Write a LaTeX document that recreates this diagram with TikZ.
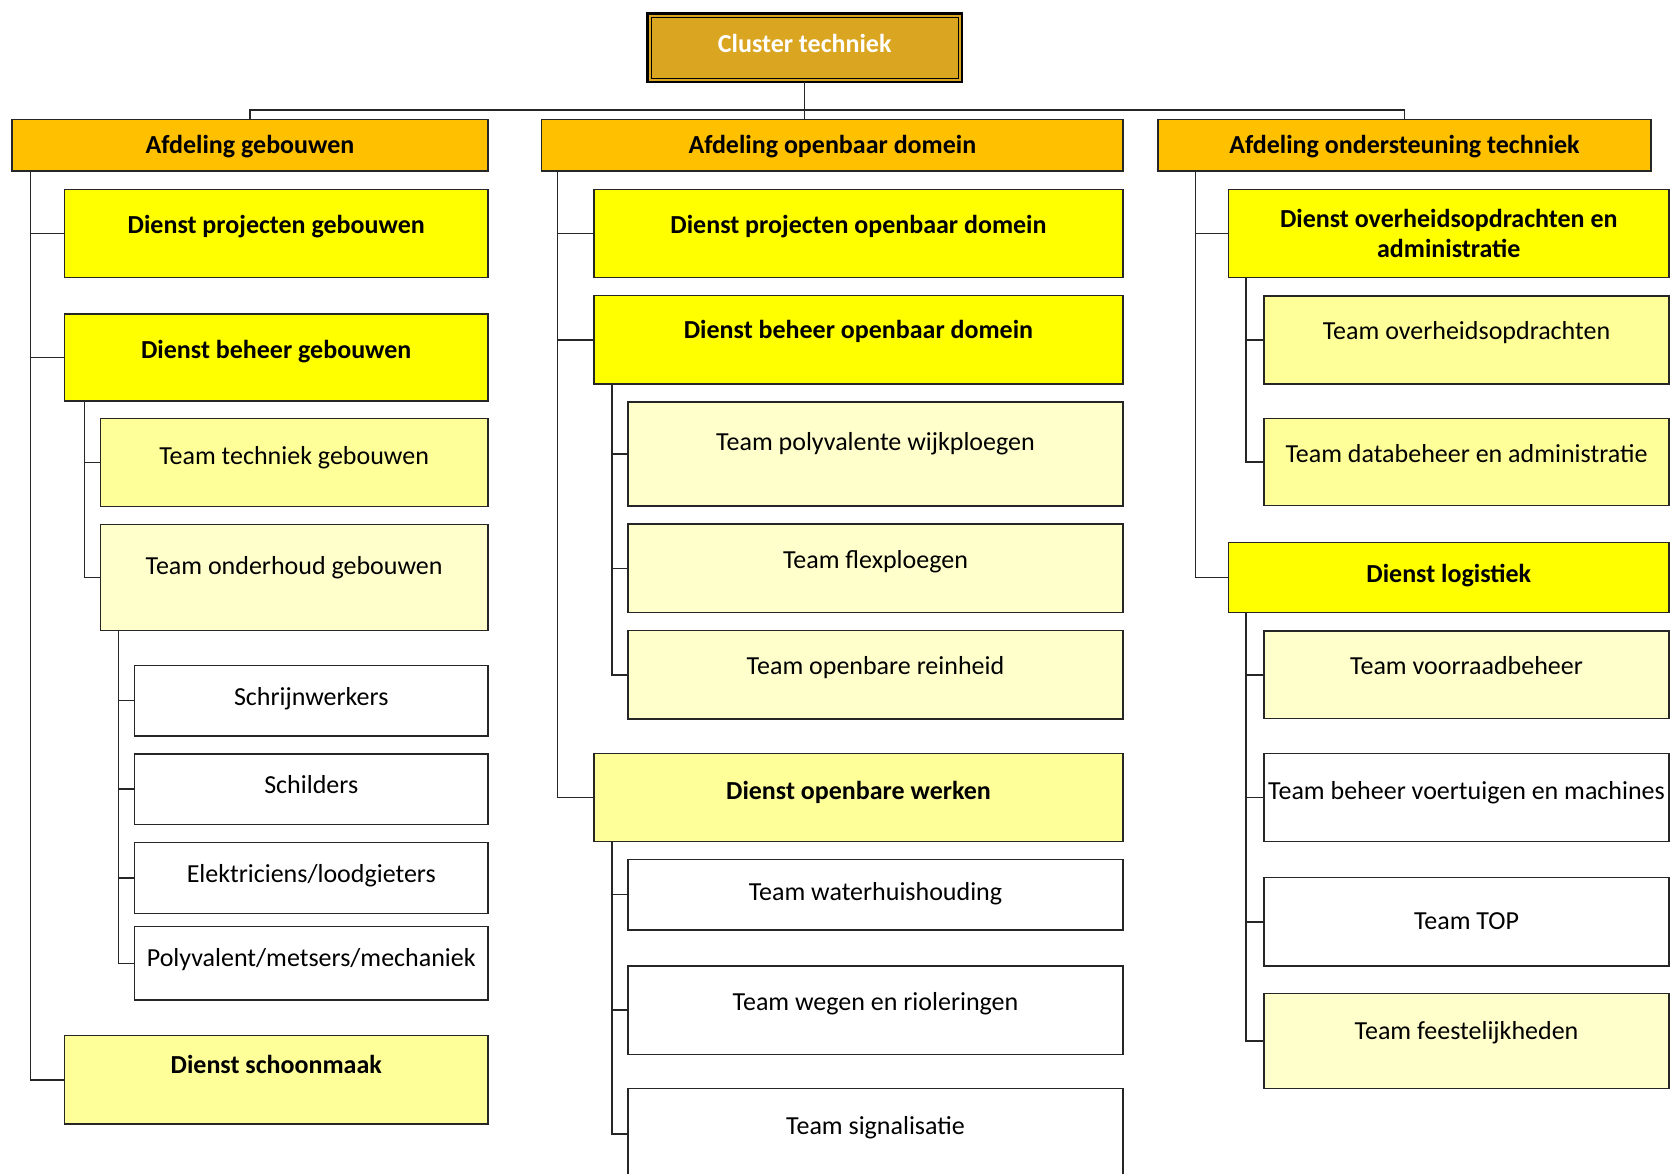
\documentclass[tikz,border=0pt]{standalone}
\usepackage{fontspec}
\setmainfont{Carlito}
\definecolor{clustercol}{HTML}{DAA520}
\definecolor{afdcol}{HTML}{FFC000}
\definecolor{dyel}{HTML}{FFFF00}
\definecolor{lyel}{HTML}{FFFF99}
\definecolor{pyel}{HTML}{FFFFCC}
\definecolor{linecol}{HTML}{262626}
\tikzset{
  basebox/.style={draw=linecol, line width=1.4pt, rectangle, anchor=north west,
    inner sep=0pt, outer sep=0pt, font=\fontsize{26}{30}\selectfont},
  box/.style={basebox, text height=20pt},
  bbox/.style={box, font=\fontsize{26}{30}\selectfont\bfseries},
  conn/.style={draw=linecol, line width=1.4pt},
}
\begin{document}
\begin{tikzpicture}[x=1pt,y=-1pt]
\path[use as bounding box, fill=white] (0,0) rectangle (1672,1173);
\clip (0,0) rectangle (1672,1173);

% top
\node[bbox, fill=clustercol, text=white, line width=2.7pt, draw=black, minimum width=314.6pt, minimum height=68.4pt, text depth=10pt] (ct) at (647.4,13.6) {Cluster techniek};
\draw[line width=0.9pt, black] ([shift={(4pt,-4pt)}]ct.north west) rectangle ([shift={(-4pt,4pt)}]ct.south east);

\node[bbox, fill=afdcol, minimum width=476pt, minimum height=51.7pt, text depth=4pt] (ag) at (12,119.3) {Afdeling gebouwen};
\node[bbox, fill=afdcol, minimum width=581.3pt, minimum height=51.7pt, text depth=4pt] (aod) at (541.7,119.3) {Afdeling openbaar domein};
\node[bbox, fill=afdcol, minimum width=493pt, minimum height=51.7pt, text depth=4pt] (aot) at (1158,119.3) {Afdeling ondersteuning techniek};

% left column
\node[bbox, fill=dyel, minimum width=423.5pt, minimum height=88pt, text depth=19pt] (dpg) at (64.5,189.3) {Dienst projecten gebouwen};
\node[bbox, fill=dyel, minimum width=423.5pt, minimum height=87pt, text depth=19pt] (dbg) at (64.5,314) {Dienst beheer gebouwen};
\node[box, fill=lyel, minimum width=387.8pt, minimum height=88.4pt, text depth=17pt] (ttg) at (100.2,418.3) {Team techniek gebouwen};
\node[box, fill=pyel, minimum width=387.8pt, minimum height=106.4pt, text depth=27pt] (tog) at (100.2,524.3) {Team onderhoud gebouwen};
\node[box, fill=white, minimum width=353.5pt, minimum height=70.4pt, text depth=11pt] (sch) at (134.5,665.4) {Schrijnwerkers};
\node[box, fill=white, minimum width=353.5pt, minimum height=70.3pt, text depth=11pt] (schi) at (134.5,754) {Schilders};
\node[box, fill=white, minimum width=353.5pt, minimum height=70.8pt, text depth=11pt] (ele) at (134.5,842.5) {Elektriciens/loodgieters};
\node[box, fill=white, minimum width=353.5pt, minimum height=73.3pt, text depth=13pt] (pol) at (134.5,926.7) {Polyvalent/metsers/mechaniek};
\node[bbox, fill=lyel, minimum width=423.5pt, minimum height=88.3pt, text depth=33pt] (dsm) at (64.5,1035.7) {Dienst schoonmaak};

% middle column
\node[bbox, fill=dyel, minimum width=529pt, minimum height=88pt, text depth=20pt] (dpod) at (594,189.3) {Dienst projecten openbaar domein};
\node[bbox, fill=dyel, minimum width=529pt, minimum height=88.3pt, text depth=23pt] (dbod) at (594,295.7) {Dienst beheer openbaar domein};
\node[box, fill=pyel, minimum width=495pt, minimum height=104pt, text depth=28pt] (tpw) at (628,402) {Team polyvalente wijkploegen};
\node[box, fill=pyel, minimum width=495pt, minimum height=88.7pt, text depth=20pt] (tf) at (628,524) {Team flexploegen};
\node[box, fill=pyel, minimum width=495pt, minimum height=88.3pt, text depth=21pt] (tor) at (628,630.7) {Team openbare reinheid};
\node[bbox, fill=lyel, minimum width=529pt, minimum height=88pt, text depth=16pt] (dow) at (594,753.3) {Dienst openbare werken};
\node[box, fill=white, minimum width=495pt, minimum height=70.7pt, text depth=9pt] (tw) at (628,859.3) {Team waterhuishouding};
\node[box, fill=white, minimum width=495pt, minimum height=88.3pt, text depth=20pt] (twr) at (628,966) {Team wegen en rioleringen};
\node[box, fill=white, minimum width=495pt, minimum height=91.4pt, text depth=20pt] (ts) at (628,1088.3) {Team signalisatie};

% right column
\node[basebox, fill=dyel, font=\fontsize{26}{30}\selectfont\bfseries, align=center, minimum width=440.5pt, minimum height=88pt] (doa) at (1228.5,189.3) {Dienst overheidsopdrachten en\\administratie};
\node[box, fill=lyel, minimum width=405pt, minimum height=88pt, text depth=21pt] (to) at (1264,296) {Team overheidsopdrachten};
\node[box, fill=lyel, minimum width=405pt, minimum height=87.2pt, text depth=19pt] (tda) at (1264,418.3) {Team databeheer en administratie};
\node[bbox, fill=dyel, minimum width=440.5pt, minimum height=70.4pt, text depth=10pt] (dl) at (1228.5,542.3) {Dienst logistiek};
\node[box, fill=pyel, minimum width=405pt, minimum height=87.7pt, text depth=21pt] (tv) at (1264,631) {Team voorraadbeheer};
\node[box, fill=white, minimum width=405pt, minimum height=88.4pt, text depth=17pt] (tbvm) at (1264,753.3) {Team beheer voertuigen en machines};
\node[box, fill=white, minimum width=405pt, minimum height=88.3pt, text depth=5pt] (ttop) at (1264,877.7) {Team TOP};
\node[box, fill=pyel, minimum width=405pt, minimum height=95pt, text depth=23pt] (tfe) at (1264,993.3) {Team feestelijkheden};

% connectors: top
\draw[conn] (ag.north) |- ([yshift=-28pt]ct.south) -| (aot.north);
\draw[conn] (ct.south) -- (ct.south |- aod.north);

% left
\foreach \c in {dpg,dbg,dsm} \draw[conn] ([xshift=18.5pt]ag.south west) |- (\c.west);
\foreach \c in {ttg,tog} \draw[conn] ([xshift=19.8pt]dbg.south west) |- (\c.west);
\foreach \c in {sch,schi,ele,pol} \draw[conn] ([xshift=18.2pt]tog.south west) |- (\c.west);

% middle
\foreach \c in {dpod,dbod,dow} \draw[conn] ([xshift=16pt]aod.south west) |- (\c.west);
\foreach \c in {tpw,tf,tor} \draw[conn] ([xshift=18pt]dbod.south west) |- (\c.west);
\foreach \c in {tw,twr,ts} \draw[conn] ([xshift=18pt]dow.south west) |- (\c.west);

% right
\foreach \c in {doa,dl} \draw[conn] ([xshift=37.5pt]aot.south west) |- (\c.west);
\foreach \c in {to,tda} \draw[conn] ([xshift=17.3pt]doa.south west) |- (\c.west);
\foreach \c in {tv,tbvm,ttop,tfe} \draw[conn] ([xshift=17.3pt]dl.south west) |- (\c.west);
\end{tikzpicture}
\end{document}
